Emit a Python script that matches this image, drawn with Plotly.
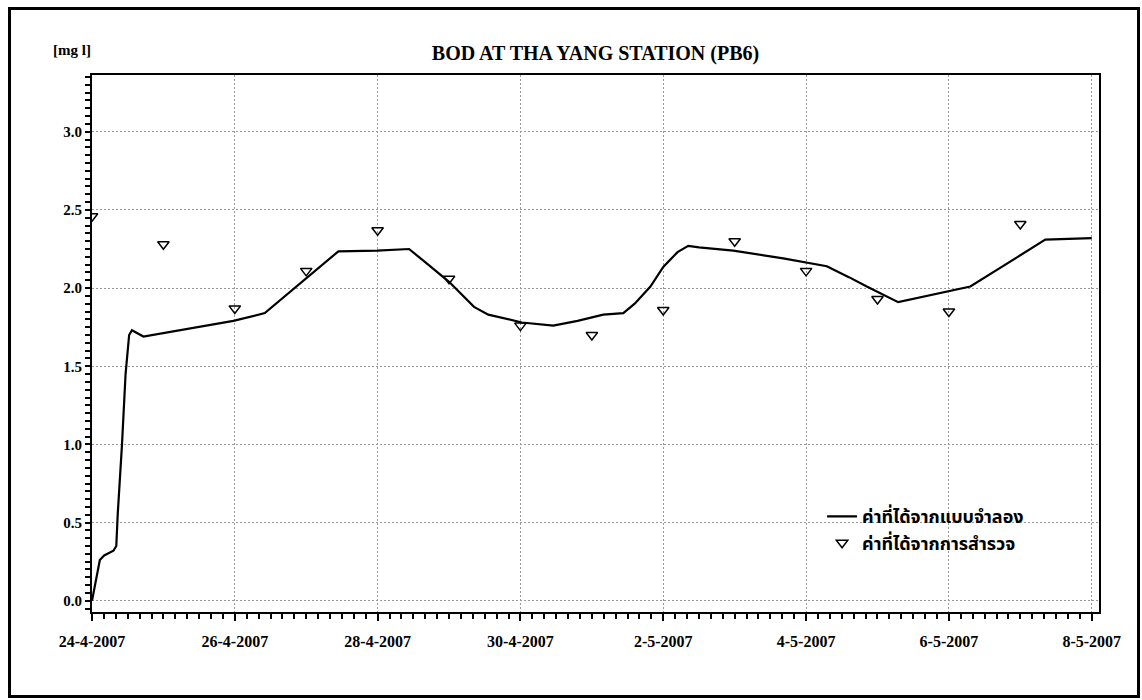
import plotly.graph_objects as go

# ---- data ----
model_time = [
    "2007-04-24 00:00", "2007-04-24 02:38", "2007-04-24 04:05", "2007-04-24 07:12",
    "2007-04-24 08:10", "2007-04-24 08:38", "2007-04-24 10:05", "2007-04-24 11:17",
    "2007-04-24 12:29", "2007-04-24 13:26", "2007-04-24 17:17", "2007-04-25 05:31",
    "2007-04-25 23:31", "2007-04-26 10:05", "2007-04-26 20:53", "2007-04-27 10:48",
    "2007-04-27 23:46", "2007-04-28 10:34", "2007-04-28 17:00", "2007-04-29 00:00",
    "2007-04-29 08:24", "2007-04-29 13:12", "2007-04-30 00:29", "2007-04-30 11:02",
    "2007-04-30 19:12", "2007-05-01 03:50", "2007-05-01 10:34", "2007-05-01 14:24",
    "2007-05-01 19:41", "2007-05-02 00:00", "2007-05-02 04:48", "2007-05-02 08:24",
    "2007-05-02 12:00", "2007-05-02 23:31", "2007-05-03 16:19", "2007-05-04 06:58",
    "2007-05-04 14:24", "2007-05-04 20:24", "2007-05-05 06:58", "2007-05-05 23:46",
    "2007-05-06 07:12", "2007-05-07 08:24", "2007-05-08 00:00",
]
model_bod = [
    0.00, 0.26, 0.29, 0.32,
    0.35, 0.55, 1.00, 1.45,
    1.70, 1.73, 1.69, 1.73,
    1.79, 1.84, 2.01, 2.235,
    2.24, 2.25, 2.15, 2.04,
    1.88, 1.83, 1.78, 1.76,
    1.79, 1.83, 1.84, 1.90,
    2.01, 2.135, 2.23, 2.27,
    2.26, 2.24, 2.19, 2.14,
    2.07, 2.01, 1.91, 1.98,
    2.01, 2.31, 2.32,
]

obs_date = [
    "2007-04-24", "2007-04-25", "2007-04-26", "2007-04-27", "2007-04-28",
    "2007-04-29", "2007-04-30", "2007-05-01", "2007-05-02", "2007-05-03",
    "2007-05-04", "2007-05-05", "2007-05-06", "2007-05-07",
]
obs_bod = [2.46, 2.28, 1.87, 2.11, 2.37, 2.06, 1.76, 1.70, 1.86, 2.30, 2.11, 1.93, 1.85, 2.41]

tick_dates = ["2007-04-24", "2007-04-26", "2007-04-28", "2007-04-30",
              "2007-05-02", "2007-05-04", "2007-05-06", "2007-05-08"]
tick_labels = ["24-4-2007", "26-4-2007", "28-4-2007", "30-4-2007",
               "2-5-2007", "4-5-2007", "6-5-2007", "8-5-2007"]
y_ticks = [0.0, 0.5, 1.0, 1.5, 2.0, 2.5, 3.0]
y_labels = ["0.0", "0.5", "1.0", "1.5", "2.0", "2.5", "3.0"]

name_model = "ค่าที่ได้จากแบบจำลอง"
name_obs = "ค่าที่ได้จากการสำรวจ"
title_text = "BOD AT THA YANG STATION (PB6)"
unit_text = "[mg l]"

SERIF = "Liberation Serif, Times New Roman, serif"
THAI = "Noto Sans Thai, Tahoma, Loma, Garuda, Noto Sans, sans-serif"
GRID = "#9a9a9a"
GRIDDASH = "2px,2px"

fig = go.Figure()
fig.add_trace(go.Scatter(
    x=model_time, y=model_bod, mode="lines", name=name_model,
    line=dict(color="black", width=2.2),
))
fig.add_trace(go.Scatter(
    x=obs_date, y=obs_bod, mode="markers", name=name_obs,
    marker=dict(symbol="triangle-down-open", size=10, color="black",
                line=dict(color="black", width=1.5)),
))

fig.update_layout(
    width=1142, height=700,
    paper_bgcolor="white", plot_bgcolor="white",
    margin=dict(l=92, r=43, t=75, b=88),
    showlegend=True,
    title=dict(text=title_text, x=0.5, xref="paper", y=1 - 53 / 700, yref="container",
               xanchor="center", yanchor="middle",
               font=dict(family=SERIF, size=20, color="black", weight="bold")),
    legend=dict(x=0.725, y=0.212, xanchor="left", yanchor="top",
                bgcolor="rgba(0,0,0,0)", borderwidth=0,
                font=dict(family=THAI, size=18, color="black", weight="bold"),
                tracegroupgap=0),
    annotations=[dict(text=unit_text, x=-0.02, y=1.047, xref="paper", yref="paper",
                      showarrow=False, xanchor="center", yanchor="middle",
                      font=dict(family=SERIF, size=15, color="black", weight="bold"))],
    shapes=[dict(type="rect", xref="paper", yref="paper",
                 x0=(9.5 - 92) / 1007, x1=(1138.5 - 92) / 1007,
                 y0=(612 - 696.5) / 537, y1=(612 - 8.5) / 537,
                 line=dict(color="black", width=3), fillcolor="rgba(0,0,0,0)",
                 layer="above")],
)

fig.update_xaxes(
    type="date",
    range=["2007-04-24 00:00", "2007-05-08 02:27"],
    tickvals=tick_dates, ticktext=tick_labels,
    ticks="outside", ticklen=7, tickwidth=1.5, tickcolor="black",
    minor=dict(dtick=4 * 3600 * 1000, ticks="outside", ticklen=5, tickwidth=1.5,
               tickcolor="black", showgrid=False),
    showgrid=True, gridcolor=GRID, gridwidth=1, griddash=GRIDDASH,
    showline=True, linecolor="black", linewidth=2, mirror=True,
    zeroline=False,
    tickfont=dict(family=SERIF, size=16, color="black", weight="bold"),
    ticklabelstandoff=7,
)
fig.update_yaxes(
    range=[-0.072, 3.363],
    tickvals=y_ticks, ticktext=y_labels,
    ticks="outside", ticklen=5, tickwidth=1.5, tickcolor="black",
    minor=dict(dtick=0.05, tick0=0, ticks="outside", ticklen=5, tickwidth=1.5,
               tickcolor="black", showgrid=False),
    showgrid=True, gridcolor=GRID, gridwidth=1, griddash=GRIDDASH,
    showline=True, linecolor="black", linewidth=2, mirror=True,
    zeroline=False,
    tickfont=dict(family=SERIF, size=15, color="black", weight="bold"),
)

fig.write_html("out.html")
